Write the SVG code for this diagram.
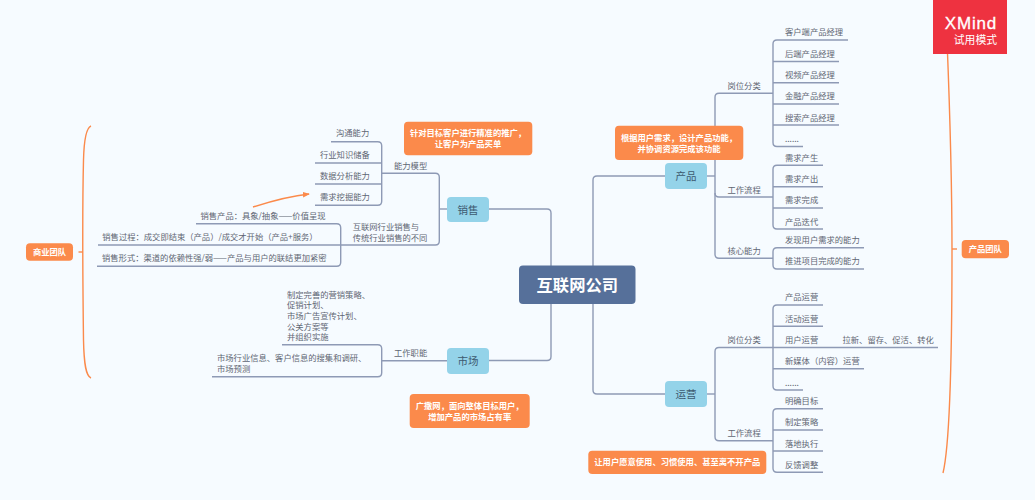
<svg xmlns="http://www.w3.org/2000/svg" width="1035" height="500" viewBox="0 0 1035 500">
<defs>
<marker id="arrow" viewBox="0 0 8 8" refX="7" refY="4" markerWidth="7" markerHeight="7" markerUnits="userSpaceOnUse" orient="auto"><path d="M0 0.8L8 4L0 7.2Z" fill="#fb8a4b"/></marker>
</defs>
<style>
text{font-family:"Noto Sans CJK SC","Liberation Sans",sans-serif}
.l{fill:none;stroke:#8e9ab5;stroke-width:1.4}
.s{fill:none;stroke:#fb8a4b;stroke-width:1.4}
.t{font-size:8.3px;fill:#5f6673}
.n{fill:#94d3e9}
.nt{font-size:10.5px;fill:#3d5a70;text-anchor:middle}
.o{fill:#fb8a4b}
.ot{font-size:8.3px;font-weight:700;fill:#fff;text-anchor:middle}
</style>
<rect width="1035" height="500" fill="#f6fbff"/>
<g id="connectors">
<path class="l" d="M551 266V213Q551 209 547 209H489"/>
<path class="l" d="M551 304V356.5Q551 360.5 547 360.5H489"/>
<path class="l" d="M593 266V180Q593 176 597 176H665"/>
<path class="l" d="M593 304V390Q593 394 597 394H665"/>
<path class="l" d="M447 209H439.3"/>
<path class="l" d="M381.7 173.3H435.3Q439.3 173.3 439.3 177.3V241Q439.3 245 435.3 245H340.7"/>
<path class="l" d="M331 141.7H377.7Q381.7 141.7 381.7 145.7V201.3Q381.7 205.3 377.7 205.3H315"/>
<path class="l" d="M315 163H381.7M315 184H381.7"/>
<path class="l" d="M196 223.7H336.7Q340.7 223.7 340.7 227.7V262.3Q340.7 266.3 336.7 266.3H97"/>
<path class="l" d="M98 245H340.7"/>
<path class="l" d="M447 360.7H381.7"/>
<path class="l" d="M282 344.7H377.7Q381.7 344.7 381.7 348.7V372.7Q381.7 376.7 377.7 376.7H212"/>
<path class="l" d="M707 176H715"/>
<path class="l" d="M773 93.3H719Q715 93.3 715 97.3V254.3Q715 258.3 719 258.3H773"/>
<path class="l" d="M715 193Q715 197 719 197H773"/>
<path class="l" d="M848 40H777Q773 40 773 44V142.5Q773 146.5 777 146.5H803"/>
<path class="l" d="M773 61.5H839M773 82.7H839M773 104H839M773 125H839"/>
<path class="l" d="M823 165.3H777Q773 165.3 773 169.3V225Q773 229 777 229H823"/>
<path class="l" d="M773 186.7H823M773 208H823"/>
<path class="l" d="M864 247.7H777Q773 247.7 773 251.7V265Q773 269 777 269H864"/>
<path class="l" d="M707 394H715"/>
<path class="l" d="M773 347.5H719Q715 347.5 715 351.5V436.7Q715 440.7 719 440.7H773"/>
<path class="l" d="M823 305H777Q773 305 773 309V386Q773 390 777 390H803"/>
<path class="l" d="M773 326.3H823M773 347.5H938M773 368.7H864"/>
<path class="l" d="M823 408.7H777Q773 408.7 773 412.7V468.3Q773 472.3 777 472.3H823"/>
<path class="l" d="M773 430H823M773 451H823"/>
<path class="s" d="M91 126C86 128 84 140 83.5 160C82.5 200 83 300 83.5 340C84 365 86 376 91 378"/>
<path class="s" d="M78.500 252H83"/>
<path class="s" d="M947 40C949 90 952 180 952 250C952 340 951 440 943 473"/>
<path class="s" d="M952 249H957"/>
<path class="s" d="M253 207C272 201 290 196 309 194" marker-end="url(#arrow)"/>
</g>
<g id="root"><rect x="519" y="265.500" width="116.500" height="38.500" rx="4" fill="#56709a"/><text x="577.300" y="291" text-anchor="middle" font-size="16.300" font-weight="700" fill="#fff">互联网公司</text></g>
<g id="sales"><rect class="n" x="447" y="197" width="42" height="25" rx="4"/><text class="nt" x="468" y="213.500">销售</text></g>
<g id="market"><rect class="n" x="447" y="348" width="42" height="26" rx="4"/><text class="nt" x="468" y="364.500">市场</text></g>
<g id="product"><rect class="n" x="665" y="163" width="42" height="26" rx="4"/><text class="nt" x="686" y="180">产品</text></g>
<g id="ops"><rect class="n" x="665" y="381" width="42" height="26" rx="4"/><text class="nt" x="686" y="398">运营</text></g>
<g id="note-sales"><rect class="o" x="404" y="121.700" width="128.300" height="33.600" rx="4"/><text class="ot" x="468" y="136.300">针对目标客户进行精准的推广，</text><text class="ot" x="468" y="147">让客户为产品买单</text></g>
<g id="note-product"><rect class="o" x="615" y="125.700" width="128.300" height="34.300" rx="4"/><text class="ot" x="679" y="141.300">根据用户需求，设计产品功能，</text><text class="ot" x="679" y="152">并协调资源完成该功能</text></g>
<g id="note-market"><rect class="o" x="409.700" y="394" width="120" height="34" rx="4"/><text class="ot" x="469.700" y="409.300">广撒网，面向整体目标用户，</text><text class="ot" x="469.700" y="420">增加产品的市场占有率</text></g>
<g id="note-ops"><rect class="o" x="588.300" y="450.700" width="178" height="23.300" rx="4"/><text class="ot" x="677.300" y="465.300">让用户愿意使用、习惯使用、甚至离不开产品</text></g>
<g id="team-business"><rect class="o" x="26" y="243.300" width="47" height="17.400" rx="4"/><text class="ot" x="49.500" y="255">商业团队</text></g>
<g id="team-product"><rect class="o" x="961.700" y="240" width="47.300" height="18.300" rx="4"/><text class="ot" x="985.300" y="252">产品团队</text></g>
<g id="xmind"><rect x="933" y="0" width="74" height="54" fill="#ee3240"/><text x="997" y="28.500" text-anchor="end" font-size="17" letter-spacing="0.800" fill="#fff" stroke="#fff" stroke-width="0.3" style="font-family:'Liberation Sans',sans-serif">XMind</text><text x="997" y="44" text-anchor="end" font-size="10.800" fill="#fff">试用模式</text></g>
<g id="left-labels">
<text class="t" x="336" y="136.300">沟通能力</text>
<text class="t" x="320" y="158">行业知识储备</text>
<text class="t" x="320" y="179">数据分析能力</text>
<text class="t" x="320" y="200">需求挖掘能力</text>
<text class="t" x="200.500" y="219">销售产品：具象/抽象——价值呈现</text>
<text class="t" x="102.300" y="240">销售过程：成交即结束（产品）/成交才开始（产品+服务）</text>
<text class="t" x="102" y="261">销售形式：渠道的依赖性强/弱——产品与用户的联结更加紧密</text>
<text class="t" x="394" y="168.700">能力模型</text>
<text class="t" x="352.700" y="229.700">互联网行业销售与</text>
<text class="t" x="352.700" y="240.500">传统行业销售的不同</text>
<text class="t" x="394" y="356">工作职能</text>
<text class="t" x="287" y="297.500">制定完善的营销策略、</text>
<text class="t" x="287" y="308">促销计划、</text>
<text class="t" x="287" y="319">市场广告宣传计划、</text>
<text class="t" x="287" y="329.500">公关方案等</text>
<text class="t" x="287" y="340">并组织实施</text>
<text class="t" x="217" y="361.300">市场行业信息、客户信息的搜集和调研、</text>
<text class="t" x="217" y="372">市场预测</text>
</g>
<g id="right-labels">
<text class="t" x="727.500" y="88.700">岗位分类</text>
<text class="t" x="727.500" y="192.500">工作流程</text>
<text class="t" x="727.500" y="253.500">核心能力</text>
<text class="t" x="785" y="35">客户端产品经理</text>
<text class="t" x="785" y="56.500">后端产品经理</text>
<text class="t" x="785" y="78">视频产品经理</text>
<text class="t" x="785" y="99">金融产品经理</text>
<text class="t" x="785" y="120.500">搜索产品经理</text>
<text class="t" x="785" y="142">......</text>
<text class="t" x="785" y="160.500">需求产生</text>
<text class="t" x="785" y="182">需求产出</text>
<text class="t" x="785" y="203">需求完成</text>
<text class="t" x="785" y="224.500">产品迭代</text>
<text class="t" x="785" y="243">发现用户需求的能力</text>
<text class="t" x="785" y="264">推进项目完成的能力</text>
<text class="t" x="727.500" y="342.700">岗位分类</text>
<text class="t" x="727.500" y="436">工作流程</text>
<text class="t" x="785" y="300">产品运营</text>
<text class="t" x="785" y="321.500">活动运营</text>
<text class="t" x="785" y="342.700">用户运营</text>
<text class="t" x="842.500" y="342.700">拉新、留存、促活、转化</text>
<text class="t" x="785" y="364">新媒体（内容）运营</text>
<text class="t" x="785" y="385.500">......</text>
<text class="t" x="785" y="404">明确目标</text>
<text class="t" x="785" y="425">制定策略</text>
<text class="t" x="785" y="446.500">落地执行</text>
<text class="t" x="785" y="467.500">反馈调整</text>
</g>
</svg>
